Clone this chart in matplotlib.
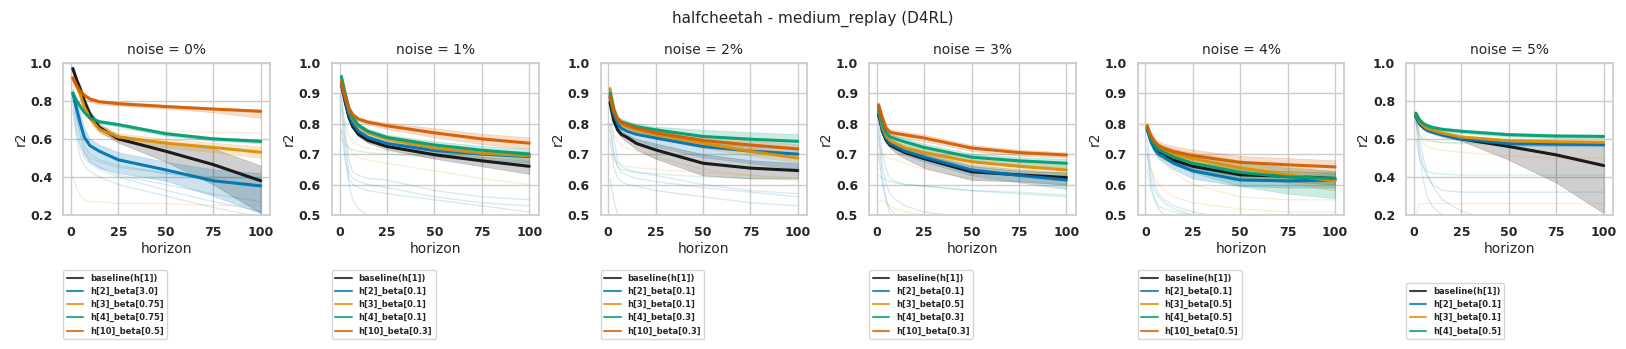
import matplotlib
matplotlib.use("Agg")
import matplotlib.pyplot as plt
import seaborn as sns

sns.set_theme(style="whitegrid")
plt.rcParams['font.family'] = ['DejaVu Sans']

horizons = [1, 3, 5, 7, 10, 15, 25, 50, 75, 100]

noise_titles = ["noise = 0%", "noise = 1%", "noise = 2%", "noise = 3%", "noise = 4%", "noise = 5%"]
ylims = [(0.2, 1.0), (0.5, 1.0), (0.5, 1.0), (0.5, 1.0), (0.5, 1.0), (0.2, 1.0)]

colors = {"base": "#111111", "h2": "#0173b2", "h3": "#de8f05", "h4": "#029e73", "h10": "#d55e00"}

labels_0 = {"base": "baseline(h[1])", "h2": "h[2]_beta[3.0]", "h3": "h[3]_beta[0.75]",
            "h4": "h[4]_beta[0.75]", "h10": "h[10]_beta[0.5]"}
labels_1 = {"base": "baseline(h[1])", "h2": "h[2]_beta[0.1]", "h3": "h[3]_beta[0.1]",
            "h4": "h[4]_beta[0.1]", "h10": "h[10]_beta[0.3]"}
labels_2 = {"base": "baseline(h[1])", "h2": "h[2]_beta[0.1]", "h3": "h[3]_beta[0.1]",
            "h4": "h[4]_beta[0.3]", "h10": "h[10]_beta[0.3]"}
labels_3 = {"base": "baseline(h[1])", "h2": "h[2]_beta[0.1]", "h3": "h[3]_beta[0.5]",
            "h4": "h[4]_beta[0.3]", "h10": "h[10]_beta[0.3]"}
labels_4 = {"base": "baseline(h[1])", "h2": "h[2]_beta[0.1]", "h3": "h[3]_beta[0.5]",
            "h4": "h[4]_beta[0.5]", "h10": "h[10]_beta[0.5]"}
labels_5 = {"base": "baseline(h[1])", "h2": "h[2]_beta[0.1]", "h3": "h[3]_beta[0.1]",
            "h4": "h[4]_beta[0.5]"}

# ---- noise 0% ----
mean_0 = {
    "base": [0.97, 0.91, 0.86, 0.80, 0.73, 0.66, 0.60, 0.535, 0.465, 0.38],
    "h2": [0.84, 0.76, 0.68, 0.61, 0.565, 0.535, 0.49, 0.437, 0.38, 0.353],
    "h3": [0.92, 0.88, 0.83, 0.77, 0.71, 0.65, 0.61, 0.578, 0.555, 0.53],
    "h4": [0.84, 0.80, 0.77, 0.74, 0.71, 0.69, 0.675, 0.627, 0.60, 0.587],
    "h10": [0.92, 0.88, 0.85, 0.83, 0.81, 0.795, 0.785, 0.77, 0.757, 0.745],
}
lo_0 = {
    "base": [0.95, 0.89, 0.84, 0.78, 0.71, 0.64, 0.58, 0.48, 0.36, 0.21],
    "h2": [0.82, 0.70, 0.60, 0.52, 0.48, 0.45, 0.42, 0.38, 0.30, 0.21],
    "h3": [0.90, 0.86, 0.81, 0.75, 0.69, 0.63, 0.59, 0.555, 0.53, 0.50],
    "h4": [0.83, 0.79, 0.76, 0.73, 0.70, 0.68, 0.665, 0.617, 0.59, 0.577],
    "h10": [0.90, 0.86, 0.83, 0.81, 0.795, 0.78, 0.775, 0.76, 0.74, 0.71],
}
hi_0 = {
    "base": [0.98, 0.93, 0.88, 0.82, 0.75, 0.68, 0.62, 0.58, 0.55, 0.46],
    "h2": [0.86, 0.80, 0.73, 0.66, 0.60, 0.57, 0.53, 0.48, 0.44, 0.42],
    "h3": [0.94, 0.90, 0.85, 0.79, 0.73, 0.67, 0.63, 0.60, 0.58, 0.56],
    "h4": [0.85, 0.81, 0.78, 0.75, 0.72, 0.70, 0.685, 0.637, 0.61, 0.597],
    "h10": [0.93, 0.89, 0.86, 0.84, 0.82, 0.805, 0.795, 0.78, 0.765, 0.755],
}
faint_0 = [
    ("h2", [0.85, 0.70, 0.58, 0.52, 0.48, 0.45, 0.41, 0.36, 0.31, 0.27]),
    ("h2", [0.83, 0.65, 0.55, 0.50, 0.47, 0.44, 0.40, 0.33, 0.27, 0.22]),
    ("h2", [0.80, 0.60, 0.50, 0.46, 0.43, 0.40, 0.36, 0.30, 0.24, 0.19]),
    ("h2", [0.86, 0.72, 0.62, 0.56, 0.52, 0.49, 0.46, 0.42, 0.38, 0.35]),
    ("h3", [0.40, 0.34, 0.30, 0.28, 0.27, 0.27, 0.26, 0.26, 0.25, 0.25]),
    ("h3", [0.88, 0.82, 0.75, 0.70, 0.67, 0.66, 0.65, 0.64, 0.635, 0.63]),
    ("h4", [0.75, 0.63, 0.57, 0.53, 0.50, 0.48, 0.45, 0.42, 0.40, 0.39]),
]

# ---- noise 1% ----
mean_1 = {
    "base": [0.93, 0.87, 0.82, 0.79, 0.765, 0.745, 0.725, 0.698, 0.678, 0.66],
    "h2": [0.93, 0.88, 0.83, 0.80, 0.775, 0.755, 0.735, 0.712, 0.70, 0.692],
    "h3": [0.94, 0.89, 0.845, 0.815, 0.79, 0.77, 0.75, 0.72, 0.703, 0.695],
    "h4": [0.955, 0.90, 0.85, 0.82, 0.795, 0.775, 0.755, 0.73, 0.713, 0.70],
    "h10": [0.935, 0.89, 0.85, 0.83, 0.815, 0.805, 0.793, 0.77, 0.75, 0.736],
}
lo_1 = {
    "base": [0.925, 0.865, 0.815, 0.785, 0.758, 0.737, 0.715, 0.685, 0.66, 0.635],
    "h2": [0.925, 0.875, 0.825, 0.795, 0.768, 0.747, 0.727, 0.70, 0.685, 0.672],
    "h3": [0.935, 0.885, 0.84, 0.81, 0.783, 0.762, 0.742, 0.71, 0.69, 0.68],
    "h4": [0.95, 0.895, 0.845, 0.815, 0.788, 0.767, 0.746, 0.718, 0.70, 0.68],
    "h10": [0.93, 0.885, 0.845, 0.825, 0.808, 0.797, 0.783, 0.755, 0.733, 0.718],
}
hi_1 = {
    "base": [0.935, 0.875, 0.825, 0.795, 0.772, 0.753, 0.735, 0.71, 0.692, 0.678],
    "h2": [0.935, 0.885, 0.835, 0.805, 0.782, 0.763, 0.743, 0.722, 0.712, 0.708],
    "h3": [0.945, 0.895, 0.85, 0.82, 0.797, 0.778, 0.758, 0.73, 0.715, 0.708],
    "h4": [0.96, 0.905, 0.855, 0.825, 0.802, 0.783, 0.764, 0.742, 0.727, 0.718],
    "h10": [0.94, 0.895, 0.855, 0.835, 0.822, 0.813, 0.803, 0.785, 0.767, 0.755],
}
faint_1 = [
    ("h2", [0.90, 0.78, 0.68, 0.64, 0.63, 0.62, 0.615, 0.58, 0.56, 0.55]),
    ("h2", [0.88, 0.74, 0.64, 0.62, 0.61, 0.60, 0.59, 0.56, 0.54, 0.53]),
    ("h2", [0.78, 0.68, 0.62, 0.60, 0.59, 0.58, 0.57, 0.55, 0.53, 0.51]),
    ("h2", [0.85, 0.70, 0.60, 0.55, 0.52, 0.50, 0.48, 0.46, 0.45, 0.44]),
    ("h3", [0.78, 0.75, 0.72, 0.70, 0.69, 0.68, 0.67, 0.645, 0.62, 0.60]),
    ("h3", [0.86, 0.80, 0.76, 0.74, 0.73, 0.72, 0.71, 0.69, 0.68, 0.67]),
    ("h4", [0.75, 0.73, 0.72, 0.715, 0.71, 0.705, 0.70, 0.69, 0.68, 0.67]),
]

# ---- noise 2% ----
mean_2 = {
    "base": [0.87, 0.81, 0.78, 0.765, 0.755, 0.735, 0.714, 0.67, 0.654, 0.646],
    "h2": [0.885, 0.83, 0.80, 0.785, 0.775, 0.765, 0.753, 0.725, 0.71, 0.70],
    "h3": [0.915, 0.85, 0.815, 0.80, 0.79, 0.78, 0.765, 0.736, 0.709, 0.687],
    "h4": [0.90, 0.845, 0.815, 0.805, 0.80, 0.79, 0.78, 0.758, 0.749, 0.742],
    "h10": [0.89, 0.84, 0.815, 0.805, 0.795, 0.785, 0.77, 0.745, 0.73, 0.717],
}
lo_2 = {
    "base": [0.86, 0.80, 0.77, 0.755, 0.74, 0.715, 0.685, 0.63, 0.62, 0.62],
    "h2": [0.875, 0.82, 0.79, 0.775, 0.76, 0.745, 0.725, 0.69, 0.67, 0.65],
    "h3": [0.905, 0.84, 0.805, 0.79, 0.78, 0.77, 0.752, 0.72, 0.695, 0.672],
    "h4": [0.89, 0.835, 0.805, 0.795, 0.787, 0.775, 0.762, 0.735, 0.725, 0.718],
    "h10": [0.88, 0.83, 0.805, 0.795, 0.785, 0.774, 0.758, 0.73, 0.713, 0.70],
}
hi_2 = {
    "base": [0.88, 0.82, 0.79, 0.775, 0.765, 0.75, 0.735, 0.70, 0.68, 0.67],
    "h2": [0.895, 0.84, 0.81, 0.795, 0.785, 0.775, 0.765, 0.74, 0.725, 0.72],
    "h3": [0.925, 0.86, 0.825, 0.81, 0.80, 0.79, 0.778, 0.75, 0.722, 0.702],
    "h4": [0.91, 0.855, 0.825, 0.815, 0.81, 0.80, 0.79, 0.78, 0.772, 0.766],
    "h10": [0.90, 0.85, 0.825, 0.815, 0.805, 0.796, 0.782, 0.76, 0.745, 0.733],
}
faint_2 = [
    ("h2", [0.85, 0.75, 0.68, 0.66, 0.65, 0.64, 0.63, 0.60, 0.58, 0.57]),
    ("h2", [0.80, 0.70, 0.66, 0.64, 0.63, 0.62, 0.61, 0.59, 0.575, 0.56]),
    ("h2", [0.75, 0.66, 0.62, 0.61, 0.60, 0.595, 0.58, 0.56, 0.54, 0.53]),
    ("h2", [0.62, 0.55, 0.50, 0.48, 0.46, 0.45, 0.44, 0.43, 0.42, 0.41]),
    ("h3", [0.70, 0.68, 0.67, 0.665, 0.66, 0.655, 0.65, 0.64, 0.63, 0.62]),
    ("h3", [0.80, 0.76, 0.74, 0.73, 0.72, 0.71, 0.69, 0.65, 0.63, 0.62]),
    ("h4", [0.78, 0.70, 0.66, 0.65, 0.645, 0.64, 0.635, 0.625, 0.62, 0.615]),
]

# ---- noise 3% ----
mean_3 = {
    "base": [0.83, 0.775, 0.745, 0.73, 0.72, 0.705, 0.685, 0.642, 0.632, 0.623],
    "h2": [0.84, 0.78, 0.75, 0.735, 0.725, 0.71, 0.69, 0.648, 0.63, 0.615],
    "h3": [0.85, 0.79, 0.76, 0.745, 0.735, 0.72, 0.705, 0.675, 0.66, 0.648],
    "h4": [0.855, 0.80, 0.77, 0.757, 0.75, 0.74, 0.722, 0.69, 0.678, 0.67],
    "h10": [0.862, 0.82, 0.785, 0.772, 0.768, 0.763, 0.753, 0.72, 0.705, 0.697],
}
lo_3 = {
    "base": [0.82, 0.765, 0.735, 0.72, 0.705, 0.685, 0.655, 0.615, 0.61, 0.60],
    "h2": [0.83, 0.77, 0.74, 0.725, 0.713, 0.697, 0.675, 0.63, 0.607, 0.585],
    "h3": [0.84, 0.78, 0.75, 0.735, 0.724, 0.708, 0.692, 0.66, 0.645, 0.632],
    "h4": [0.845, 0.79, 0.76, 0.747, 0.739, 0.728, 0.71, 0.678, 0.665, 0.656],
    "h10": [0.852, 0.81, 0.775, 0.762, 0.758, 0.752, 0.742, 0.71, 0.695, 0.688],
}
hi_3 = {
    "base": [0.84, 0.785, 0.755, 0.74, 0.73, 0.72, 0.70, 0.66, 0.645, 0.64],
    "h2": [0.85, 0.79, 0.76, 0.745, 0.737, 0.723, 0.705, 0.665, 0.65, 0.64],
    "h3": [0.86, 0.80, 0.77, 0.755, 0.746, 0.732, 0.718, 0.69, 0.675, 0.664],
    "h4": [0.865, 0.81, 0.78, 0.767, 0.761, 0.752, 0.734, 0.702, 0.69, 0.684],
    "h10": [0.872, 0.83, 0.795, 0.782, 0.778, 0.774, 0.764, 0.73, 0.715, 0.706],
}
faint_3 = [
    ("h2", [0.80, 0.70, 0.65, 0.62, 0.61, 0.60, 0.595, 0.58, 0.57, 0.56]),
    ("h2", [0.78, 0.66, 0.60, 0.57, 0.55, 0.53, 0.51, 0.49, 0.48, 0.47]),
    ("h2", [0.70, 0.60, 0.55, 0.52, 0.50, 0.48, 0.47, 0.46, 0.45, 0.44]),
    ("h2", [0.76, 0.62, 0.55, 0.50, 0.46, 0.42, 0.38, 0.33, 0.30, 0.28]),
    ("h3", [0.73, 0.70, 0.69, 0.685, 0.68, 0.67, 0.65, 0.62, 0.61, 0.60]),
    ("h3", [0.54, 0.55, 0.54, 0.53, 0.52, 0.51, 0.50, 0.49, 0.485, 0.48]),
    ("h4", [0.63, 0.62, 0.615, 0.61, 0.605, 0.60, 0.595, 0.58, 0.575, 0.565]),
]

# ---- noise 4% ----
mean_4 = {
    "base": [0.785, 0.745, 0.72, 0.705, 0.695, 0.68, 0.66, 0.632, 0.627, 0.62],
    "h2": [0.78, 0.74, 0.715, 0.70, 0.69, 0.67, 0.645, 0.615, 0.612, 0.615],
    "h3": [0.795, 0.755, 0.735, 0.722, 0.712, 0.70, 0.685, 0.655, 0.632, 0.612],
    "h4": [0.79, 0.75, 0.73, 0.715, 0.705, 0.69, 0.67, 0.64, 0.625, 0.62],
    "h10": [0.79, 0.76, 0.74, 0.728, 0.718, 0.708, 0.695, 0.673, 0.665, 0.658],
}
lo_4 = {
    "base": [0.775, 0.735, 0.71, 0.695, 0.683, 0.667, 0.645, 0.615, 0.61, 0.60],
    "h2": [0.77, 0.73, 0.703, 0.685, 0.672, 0.65, 0.62, 0.595, 0.59, 0.59],
    "h3": [0.785, 0.745, 0.723, 0.708, 0.697, 0.683, 0.665, 0.63, 0.605, 0.58],
    "h4": [0.78, 0.74, 0.715, 0.697, 0.683, 0.665, 0.64, 0.595, 0.57, 0.555],
    "h10": [0.78, 0.748, 0.726, 0.713, 0.702, 0.69, 0.675, 0.652, 0.643, 0.636],
}
hi_4 = {
    "base": [0.795, 0.755, 0.73, 0.715, 0.707, 0.693, 0.675, 0.65, 0.644, 0.64],
    "h2": [0.79, 0.75, 0.727, 0.715, 0.708, 0.69, 0.67, 0.635, 0.632, 0.635],
    "h3": [0.805, 0.765, 0.747, 0.736, 0.727, 0.717, 0.705, 0.68, 0.659, 0.644],
    "h4": [0.80, 0.76, 0.745, 0.733, 0.727, 0.715, 0.70, 0.675, 0.655, 0.645],
    "h10": [0.80, 0.772, 0.754, 0.743, 0.734, 0.726, 0.715, 0.694, 0.687, 0.68],
}
faint_4 = [
    ("h2", [0.75, 0.65, 0.60, 0.57, 0.55, 0.53, 0.51, 0.48, 0.46, 0.45]),
    ("h2", [0.72, 0.60, 0.55, 0.52, 0.50, 0.48, 0.45, 0.40, 0.38, 0.36]),
    ("h2", [0.70, 0.62, 0.58, 0.56, 0.54, 0.52, 0.50, 0.47, 0.44, 0.42]),
    ("h3", [0.78, 0.74, 0.71, 0.69, 0.67, 0.64, 0.60, 0.56, 0.55, 0.55]),
    ("h3", [0.70, 0.65, 0.62, 0.60, 0.58, 0.56, 0.54, 0.52, 0.51, 0.51]),
    ("h4", [0.65, 0.58, 0.55, 0.53, 0.52, 0.51, 0.50, 0.49, 0.48, 0.47]),
]

# ---- noise 5% ----
mean_5 = {
    "base": [0.72, 0.68, 0.66, 0.65, 0.64, 0.625, 0.60, 0.56, 0.516, 0.46],
    "h2": [0.72, 0.68, 0.66, 0.645, 0.635, 0.62, 0.60, 0.575, 0.572, 0.57],
    "h3": [0.735, 0.69, 0.67, 0.655, 0.645, 0.63, 0.61, 0.59, 0.585, 0.582],
    "h4": [0.735, 0.70, 0.68, 0.67, 0.66, 0.65, 0.64, 0.622, 0.615, 0.613],
}
lo_5 = {
    "base": [0.71, 0.67, 0.65, 0.64, 0.63, 0.615, 0.59, 0.49, 0.37, 0.21],
    "h2": [0.71, 0.67, 0.65, 0.635, 0.625, 0.61, 0.59, 0.565, 0.562, 0.56],
    "h3": [0.725, 0.68, 0.66, 0.645, 0.635, 0.62, 0.60, 0.58, 0.575, 0.572],
    "h4": [0.725, 0.69, 0.67, 0.66, 0.65, 0.64, 0.63, 0.612, 0.605, 0.603],
}
hi_5 = {
    "base": [0.73, 0.69, 0.67, 0.66, 0.65, 0.635, 0.61, 0.58, 0.575, 0.57],
    "h2": [0.73, 0.69, 0.67, 0.655, 0.645, 0.63, 0.61, 0.585, 0.582, 0.58],
    "h3": [0.745, 0.70, 0.68, 0.665, 0.655, 0.64, 0.62, 0.60, 0.595, 0.592],
    "h4": [0.745, 0.71, 0.69, 0.68, 0.67, 0.66, 0.65, 0.632, 0.625, 0.623],
}
faint_5 = [
    ("h3", [0.72, 0.66, 0.62, 0.60, 0.59, 0.58, 0.575, 0.57, 0.57, 0.57]),
    ("h3", [0.70, 0.62, 0.58, 0.56, 0.55, 0.54, 0.53, 0.51, 0.50, 0.50]),
    ("h4", [0.60, 0.50, 0.45, 0.43, 0.42, 0.415, 0.41, 0.41, 0.41, 0.41]),
    ("h2", [0.70, 0.55, 0.45, 0.40, 0.36, 0.33, 0.32, 0.32, 0.32, 0.32]),
    ("h3", [0.20, 0.26, 0.26, 0.26, 0.26, 0.26, 0.26, 0.26, 0.26, 0.26]),
    ("h2", [0.70, 0.50, 0.38, 0.30, 0.24, 0.20, 0.18, 0.15, 0.13, 0.12]),
    ("h2", [0.72, 0.60, 0.50, 0.42, 0.35, 0.28, 0.22, 0.15, 0.10, 0.08]),
    ("h4", [0.70, 0.62, 0.60, 0.59, 0.585, 0.58, 0.58, 0.575, 0.57, 0.57]),
]

panels = [
    (mean_0, lo_0, hi_0, faint_0, labels_0),
    (mean_1, lo_1, hi_1, faint_1, labels_1),
    (mean_2, lo_2, hi_2, faint_2, labels_2),
    (mean_3, lo_3, hi_3, faint_3, labels_3),
    (mean_4, lo_4, hi_4, faint_4, labels_4),
    (mean_5, lo_5, hi_5, faint_5, labels_5),
]

fig, axes = plt.subplots(1, 6, figsize=(16.26, 3.49), dpi=100)
plt.subplots_adjust(left=0.039, right=0.992, top=0.82, bottom=0.384, wspace=0.30)

for i, ax in enumerate(axes):
    mean, lo, hi, faint, labels = panels[i]

    for key, vals in faint:
        ax.plot(horizons, vals, color=colors[key], alpha=0.15, lw=1)

    for key in mean:
        ax.fill_between(horizons, lo[key], hi[key], color=colors[key], alpha=0.2, lw=0.5)
        ax.plot(horizons, mean[key], color=colors[key], lw=2.2, alpha=0.95, label=labels[key])

    ax.set_ylim(*ylims[i])
    ax.set_xticks([0, 25, 50, 75, 100])
    if ylims[i][0] == 0.2:
        ax.set_yticks([0.2, 0.4, 0.6, 0.8, 1.0])
    else:
        ax.set_yticks([0.5, 0.6, 0.7, 0.8, 0.9, 1.0])
    ax.tick_params(labelsize=9, pad=2)
    plt.setp(ax.get_xticklabels(), fontweight='bold')
    plt.setp(ax.get_yticklabels(), fontweight='bold')
    ax.set_xlabel("horizon", fontsize=10, labelpad=2)
    ax.set_ylabel("r2", fontsize=10, labelpad=2)
    ax.set_title(noise_titles[i], fontsize=10)

    leg = ax.legend(loc='lower left', bbox_to_anchor=(0.0, -0.815), borderaxespad=0,
                    prop={'weight': 'bold', 'size': 6}, frameon=True)
    for line in leg.get_lines():
        line.set_linewidth(1.5)
        line.set_alpha(0.8)

fig.suptitle("halfcheetah - medium_replay (D4RL)", fontsize=11, y=0.97)

plt.savefig("out.png", dpi=100)
